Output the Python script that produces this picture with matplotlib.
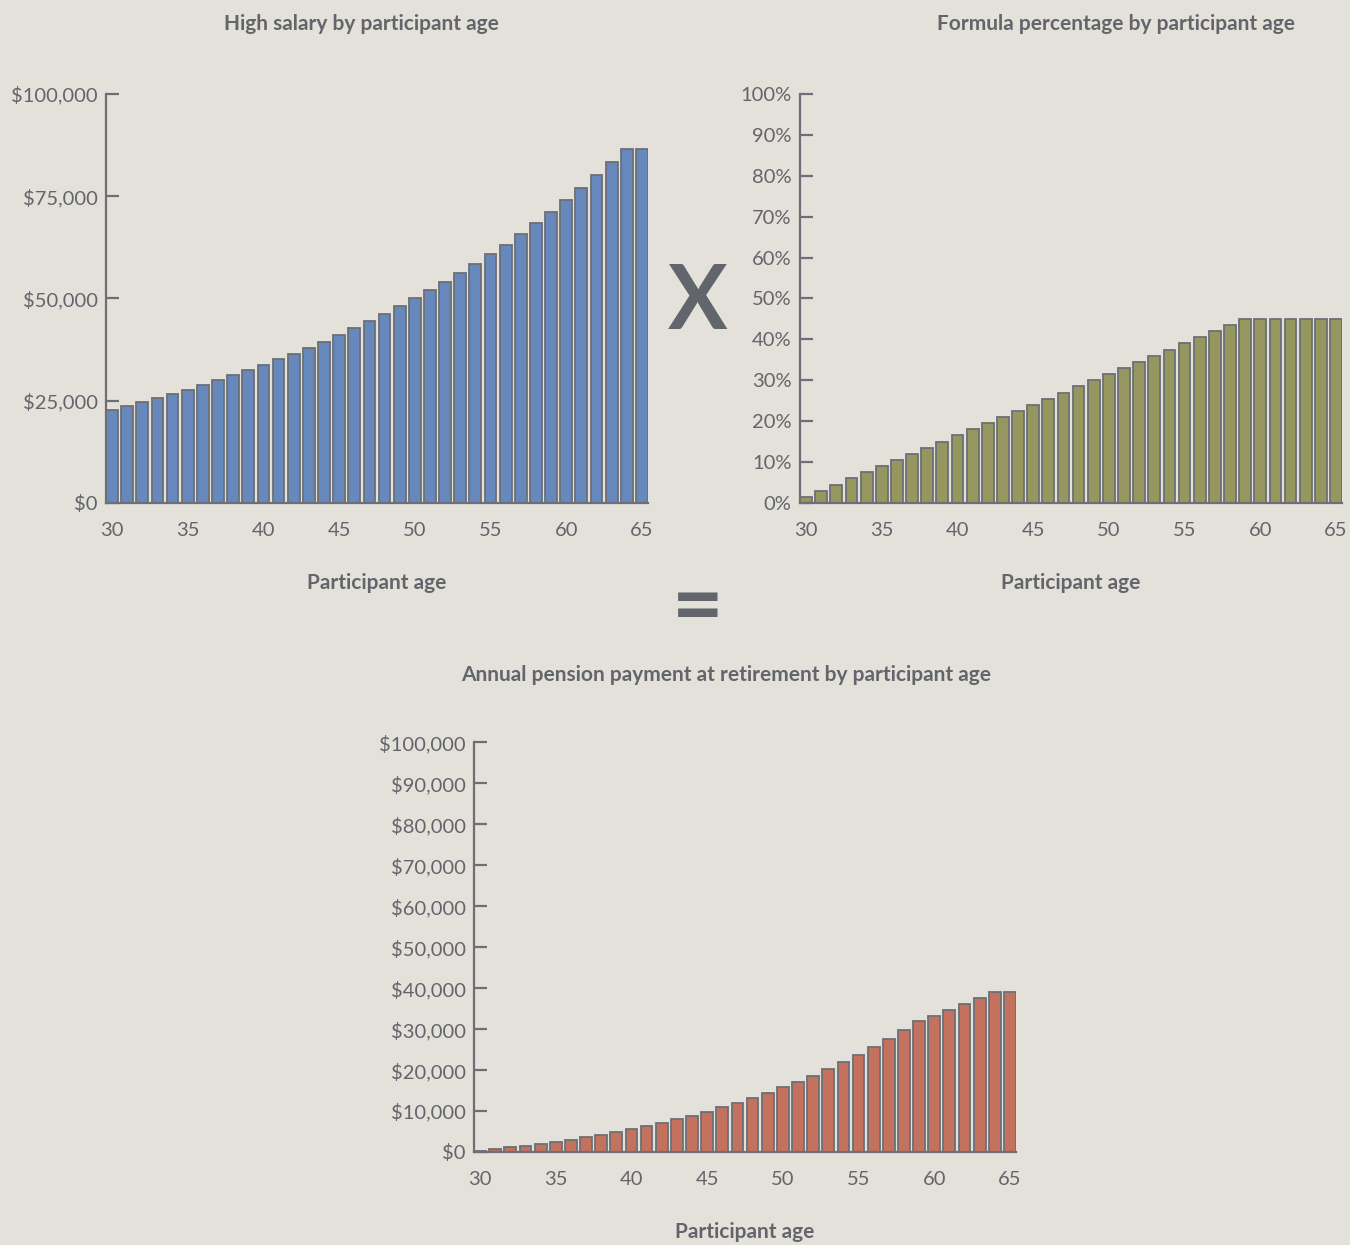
import matplotlib
matplotlib.use("Agg")
from matplotlib import pyplot as plt, ticker

# Ages shown along every x axis
ages = list(range(30, 66))
age_ticks = [30, 35, 40, 45, 50, 55, 60, 65]

# High salary (dollars) by participant age
high_salary = [22700, 23600, 24600, 25600, 26700, 27700, 28900, 30000, 31200, 32400,
               33700, 35100, 36500, 38000, 39400, 41100, 42700, 44400, 46100, 48100,
               50000, 52000, 54100, 56300, 58500, 60900, 63200, 65800, 68500, 71200,
               74000, 77000, 80100, 83400, 86600, 86600]

# Formula percentage (%) by participant age
formula_pct = [1.5, 3.0, 4.5, 6.0, 7.5, 9.0, 10.5, 12.0, 13.5, 15.0,
               16.5, 18.0, 19.5, 21.0, 22.5, 24.0, 25.5, 27.0, 28.5, 30.0,
               31.5, 33.0, 34.5, 36.0, 37.5, 39.0, 40.5, 42.0, 43.5, 45.0,
               45.0, 45.0, 45.0, 45.0, 45.0, 45.0]

# Annual pension payment (dollars) by participant age
annual_pension = [340, 710, 1110, 1540, 2000, 2490, 3030, 3600, 4210, 4860,
                  5560, 6320, 7120, 7980, 8870, 9860, 10890, 11990, 13140, 14430,
                  15750, 17160, 18660, 20270, 21940, 23750, 25600, 27640, 29800, 32040,
                  33300, 34650, 36050, 37530, 38970, 38970]

salary_ticks = [0, 25000, 50000, 75000, 100000]
pct_ticks = list(range(0, 101, 10))
pension_ticks = list(range(0, 100001, 10000))

BG = "#e3e1d9"
INK = "#62656c"
EDGE = "#6c6f76"
BLUE = "#6688bc"
OLIVE = "#96965f"
RUST = "#c4725e"

plt.rcParams['font.family'] = ['Lato', 'DejaVu Sans']

fig = plt.figure(figsize=(13.5, 12.45), dpi=100, facecolor=BG)


def style_axes(ax, values, color, yticks, fmt):
    ax.set_facecolor(BG)
    ax.bar(ages, values, width=0.78, color=color, edgecolor=EDGE, linewidth=1.3)
    ax.set_xlim(29.6, 65.4)
    ax.set_ylim(0, yticks[-1])
    ax.set_yticks(yticks)
    ax.yaxis.set_major_formatter(ticker.FuncFormatter(fmt))
    ax.set_xticks(age_ticks)
    for side in ("top", "right"):
        ax.spines[side].set_visible(False)
    for side in ("left", "bottom"):
        ax.spines[side].set_color(EDGE)
        ax.spines[side].set_linewidth(1.6)
    ax.tick_params(axis='y', direction='in', length=9, width=1.6, color=EDGE,
                   labelsize=14.5, labelcolor=INK, pad=6)
    ax.tick_params(axis='x', length=0, labelsize=14.5, labelcolor=INK, pad=14)
    ax.set_xlabel("Participant age", fontsize=15, fontweight='bold', color=INK, labelpad=24)


def dollars(v, pos):
    return f"${int(v):,}"


def percent(v, pos):
    return f"{int(v)}%"


# Top left: salary
ax1 = fig.add_axes([0.0785, 0.596, 0.4015, 0.3285])
style_axes(ax1, high_salary, BLUE, salary_ticks, dollars)
fig.text(0.268, 0.9805, "High salary by participant age", ha='center', va='center',
         fontsize=15, fontweight='bold', color=INK)

# Top right: formula percentage
ax2 = fig.add_axes([0.5926, 0.596, 0.4015, 0.3285])
style_axes(ax2, formula_pct, OLIVE, pct_ticks, percent)
fig.text(0.827, 0.9805, "Formula percentage by participant age", ha='center', va='center',
         fontsize=15, fontweight='bold', color=INK)

# Bottom: pension payment
ax3 = fig.add_axes([0.3511, 0.0747, 0.4015, 0.329])
style_axes(ax3, annual_pension, RUST, pension_ticks, dollars)
fig.text(0.538, 0.4575, "Annual pension payment at retirement by participant age",
         ha='center', va='center', fontsize=15, fontweight='bold', color=INK)

# Operators between the panels
fig.text(0.517, 0.757, "X", ha='center', va='center', fontsize=64,
         fontweight='bold', color=INK)
fig.text(0.517, 0.511, "=", ha='center', va='center', fontsize=64,
         fontweight='bold', color=INK)

fig.savefig("out.png", dpi=100, facecolor=BG)
